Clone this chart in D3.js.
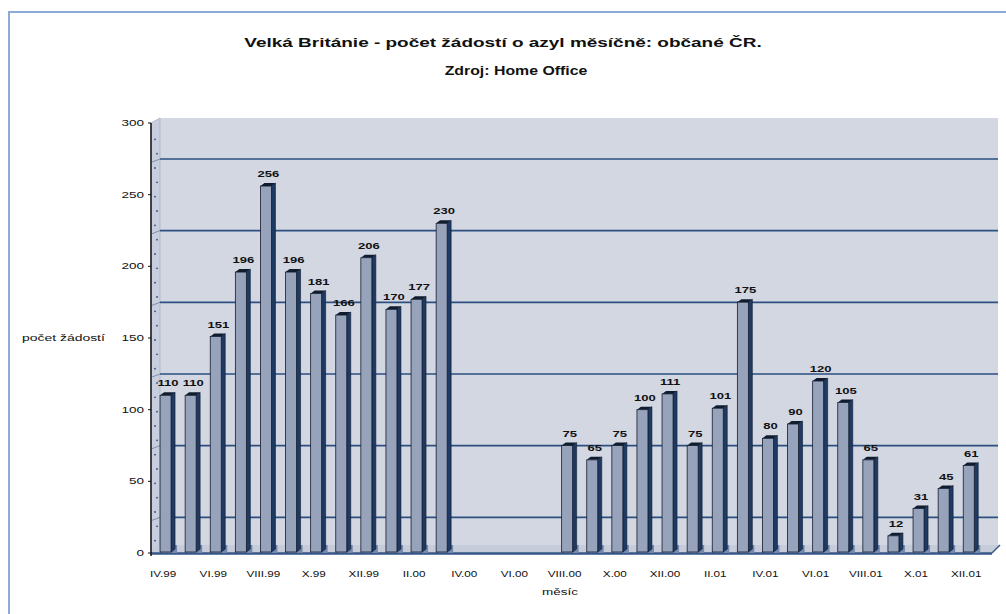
<!DOCTYPE html>
<html><head><meta charset="utf-8">
<script src="https://cdn.jsdelivr.net/npm/d3@7"></script>
<style>
html,body{margin:0;padding:0;background:#fff;}
svg{display:block;font-family:Arial,"Liberation Sans",sans-serif;}
</style></head>
<body>
<script>
const months = ["IV.99","V.99","VI.99","VII.99","VIII.99","IX.99","X.99","XI.99","XII.99","I.00","II.00","III.00",
  "IV.00","V.00","VI.00","VII.00","VIII.00","IX.00","X.00","XI.00","XII.00","I.01","II.01","III.01",
  "IV.01","V.01","VI.01","VII.01","VIII.01","IX.01","X.01","XI.01","XII.01"];
const values = [110,110,151,196,256,196,181,166,206,170,177,230,
  null,null,null,null,
  75,65,75,100,111,75,101,175,80,90,120,105,65,12,31,45,61];
const yTicks = [0,50,100,150,200,250,300];
const titleLines = ["Velká Británie - počet žádostí o azyl měsíčně: občané ČR.","Zdroj: Home Office"];
const yTitle = "počet žádostí";
const xTitle = "měsíc";

const W = 1006, H = 614;
const svg = d3.select("body").append("svg").attr("width", W).attr("height", H);

function stext(parent, x, y, str, opt) {
  const sx = opt.sx || 1.5;
  const gg = parent.append("g").attr("transform", `translate(${x},${y}) scale(${sx},1)`);
  return gg.append("text").attr("x",0).attr("y",0)
    .attr("text-anchor", opt.anchor || "start")
    .attr("font-size", opt.size || 9)
    .attr("font-weight", opt.weight || "normal")
    .attr("fill", opt.fill || "#111").text(str);
}

svg.append("rect").attr("x",9).attr("y",12).attr("width",W+10).attr("height",H+10)
  .attr("fill","#fff").attr("stroke","#8eaad6").attr("stroke-width",2);

stext(svg, 503, 47, titleLines[0], {anchor:"middle", size:13, weight:"bold", sx:1.46});
stext(svg, 516, 75, titleLines[1], {anchor:"middle", size:13, weight:"bold", sx:1.22});

const y = d3.scaleLinear().domain([0,300]).range([553,123]);
const x = d3.scaleBand().domain(d3.range(months.length)).range([154.5,982.8]).paddingInner(0);
const depthX = 9, depthY = 8;
const gridShift = 36;

svg.append("path")
  .attr("d",`M${151+depthX},${y(300)-5} L${998},${y(300)-5} L${998},${y(0)-depthY} L${151+depthX},${y(0)-depthY} Z`)
  .attr("fill","#d3d7e2");
svg.append("path")
  .attr("d",`M151,${y(300)} L${151+depthX},${y(300)-5} L${151+depthX},${y(0)-depthY} L151,${y(0)} Z`)
  .attr("fill","#c9cede").attr("stroke","#aab3c8").attr("stroke-width",0.8);

svg.selectAll("line.grid").data(yTicks.filter(v=>v>0)).join("line")
  .attr("x1",151+depthX).attr("x2",998)
  .attr("y1",d=>y(d)+gridShift).attr("y2",d=>y(d)+gridShift)
  .attr("stroke","#2d4f80").attr("stroke-width",1.6);
svg.selectAll("line.lg").data(yTicks.filter(v=>v>0)).join("line")
  .attr("x1",152).attr("x2",151+depthX)
  .attr("y1",d=>y(d)+gridShift+3).attr("y2",d=>y(d)+gridShift)
  .attr("stroke","#7d8fb0").attr("stroke-width",1);

svg.selectAll("circle.md").data(d3.range(10,300,10)).join("circle")
  .attr("cx",(d,i)=> i%2? 157:155).attr("cy",d=>y(d)+2).attr("r",0.9).attr("fill","#34507e");

svg.append("path")
  .attr("d",`M151,${y(0)} L${151+depthX},${y(0)-depthY} L1000,${y(0)-depthY} L992,${y(0)} Z`)
  .attr("fill","#c6ccda");
svg.append("line").attr("x1",151).attr("x2",992).attr("y1",y(0)+0.5).attr("y2",y(0)+0.5)
  .attr("stroke","#34568a").attr("stroke-width",2.5);
svg.append("line").attr("x1",992).attr("x2",1000).attr("y1",y(0)).attr("y2",y(0)-depthY)
  .attr("stroke","#34568a").attr("stroke-width",1.5);

const bw = 11, sw = 4, tk = 3;
const data = values.map((v,i)=>({i,v})).filter(d=>d.v!==null);
const g = svg.append("g");
data.forEach(d=>{
  const cx = x(d.i) + x.bandwidth()/2;
  const x0 = cx - 7, top = y(d.v), base = y(0)-1;
  g.append("rect").attr("x",x0+2).attr("y",y(0)-depthY).attr("width",bw+sw).attr("height",depthY)
    .attr("fill","#7489ad");
  g.append("path").attr("d",`M${x0+bw},${top} L${x0+bw+sw},${top-tk} L${x0+bw+sw},${base-tk} L${x0+bw},${base} Z`)
    .attr("fill","#1e3a63").attr("stroke","#0e1c33").attr("stroke-width",0.6);
  g.append("path").attr("d",`M${x0},${top} L${x0+sw},${top-tk} L${x0+bw+sw},${top-tk} L${x0+bw},${top} Z`)
    .attr("fill","#101c30");
  g.append("rect").attr("x",x0).attr("y",top).attr("width",bw).attr("height",base-top)
    .attr("fill","#97a2bb").attr("stroke","#141d2e").attr("stroke-width",0.8);
  stext(g, cx+1, top-9, d.v, {anchor:"middle", size:9, weight:"bold", sx:1.45});
});

svg.append("line").attr("x1",151).attr("x2",151).attr("y1",y(300)).attr("y2",y(0)+3)
  .attr("stroke","#111").attr("stroke-width",1.5);
svg.selectAll("line.yt").data(yTicks).join("line")
  .attr("x1",148).attr("x2",151).attr("y1",d=>y(d)).attr("y2",d=>y(d)).attr("stroke","#111");
yTicks.forEach(v=> stext(svg, 144, y(v)+3, v, {anchor:"end", size:9, sx:1.5}));
stext(svg, 22, y(150)+3, yTitle, {size:9, sx:1.55});

months.forEach((m,i)=>{
  if (i%2===0) stext(svg, x(i)+x.bandwidth()/2-4, 577, m, {anchor:"middle", size:9, sx:1.3});
});
stext(svg, 560, 595, xTitle, {anchor:"middle", size:9, sx:1.5});
</script>
</body></html>
